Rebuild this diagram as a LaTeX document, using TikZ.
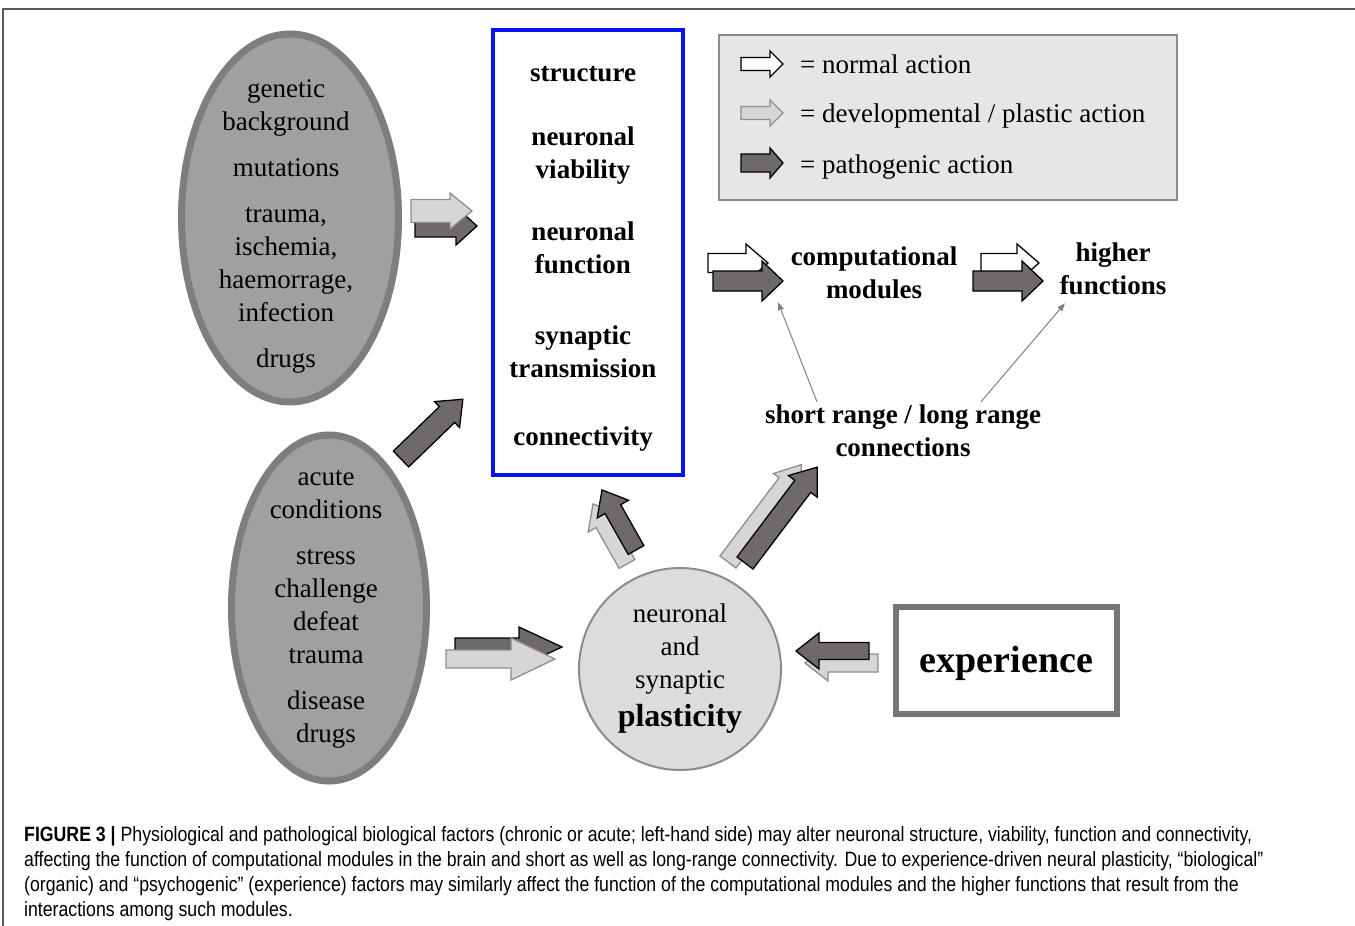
\documentclass[tikz,border=0pt]{standalone}
\usepackage{fontspec}
\setmainfont{Liberation Serif}
\newfontfamily\capfont[FakeStretch=0.855]{Liberation Sans}
\usepackage{tikz}
\usetikzlibrary{shapes.geometric,arrows.meta,calc}
\usepackage{xcolor}
\definecolor{ellfill}{HTML}{A0A0A0}
\definecolor{elldraw}{HTML}{7E7E7E}
\definecolor{circfill}{HTML}{DCDCDC}
\definecolor{circdraw}{HTML}{8C8C8C}
\definecolor{pathofill}{HTML}{6E6A6A}
\definecolor{plasticfill}{HTML}{D6D6D6}
\definecolor{plasticline}{HTML}{8E8E8E}
\definecolor{legfill}{HTML}{E6E6E6}
\definecolor{legdraw}{HTML}{8A8A8A}
\definecolor{expdraw}{HTML}{767676}
\definecolor{levelblue}{HTML}{0A14F0}

\begin{document}
\begin{tikzpicture}[x=1pt,y=-1pt,
	txt/.style={font=\fontsize{27}{33}\selectfont, align=center, inner sep=0},
	boldtxt/.style={font=\fontsize{27}{33}\selectfont\bfseries, align=center, inner sep=0},
	legtxt/.style={font=\fontsize{27}{33}\selectfont, anchor=west, inner sep=0, text height=19, text depth=6},
	captxt/.style={font=\capfont\fontsize{20.7}{25}\selectfont, anchor=west, inner sep=0},
	factorell/.style={ellipse, draw=elldraw, fill=ellfill, line width=7},
	normalarr/.style={draw=black, fill=white, line width=1.3},
	plasticarr/.style={draw=plasticline, fill=plasticfill, line width=1.3},
	pathoarr/.style={draw=black, fill=pathofill, line width=1.3},
	thinarr/.style={draw=gray, line width=1, -{Triangle[length=8pt,width=6pt]}},
	pics/barrow/.style n args={4}{code={
		\path[pic actions] (0,-#2) -- (#1-#4,-#2) -- (#1-#4,-#3) -- (#1,0) -- (#1-#4,#3) -- (#1-#4,#2) -- (0,#2) -- cycle;
	}}]
\useasboundingbox (0,0) rectangle (1355,926);
\draw[gray!70!black, line width=1.2] (3,926) -- (3,9) -- (1355,9);

% biological factors
\node [factorell, minimum width=217, minimum height=368] (chronic) at (290,218) {};
\node [txt] (chronictxt) at (286,226) {genetic\\background\\[13pt]mutations\\[13pt]trauma,\\ischemia,\\haemorrage,\\infection\\[13pt]drugs};
\node [factorell, minimum width=195, minimum height=346] (acute) at (329,608) {};
\node [txt] (acutetxt) at (326,609) {acute\\conditions\\[13pt]stress\\challenge\\defeat\\trauma\\[13pt]disease\\drugs};

% neuronal levels
\node [draw=levelblue, line width=4, minimum width=190, minimum height=445] (levels) at (588,252.5) {};
\node [boldtxt] (levelstxt) at (583,259) {structure\\[31pt]neuronal\\viability\\[29pt]neuronal\\function\\[38pt]synaptic\\transmission\\[35pt]connectivity};

% legend
\node [draw=legdraw, fill=legfill, line width=1.5, minimum width=458, minimum height=165] (legend) at (948,117.5) {};
\pic [normalarr] at (741,64) {barrow={42}{6.5}{13}{13}};
\pic [plasticarr] at (741,113) {barrow={42}{6.5}{13}{13}};
\pic [pathoarr] at (741,163) {barrow={42}{9}{15}{13}};
\node [legtxt] (normal) at (800,66.5) {= normal action};
\node [legtxt] (plastic) at (800,115.5) {= developmental / plastic action};
\node [legtxt] (patho) at (800,166.5) {= pathogenic action};

% modules and functions
\node [boldtxt] (comp) at (874,273) {computational\\modules};
\node [boldtxt] (higher) at (1113,269) {higher\\functions};
\node [boldtxt] (conn) at (903,431) {short range / long range\\connections};

% plasticity and experience
\node [circle, draw=circdraw, fill=circfill, line width=2, minimum size=202, inner sep=0, font=\fontsize{27}{33}\selectfont, align=center] (plast) at (680,669) {neuronal\\and\\synaptic\\[5pt]{\fontsize{32}{36}\selectfont\bfseries plasticity}};
\node [draw=expdraw, line width=6, minimum width=221, minimum height=107, font=\fontsize{38}{44}\selectfont\bfseries, text height=30, text depth=6] (exp) at (1006.5,660.5) {experience};

\draw [thinarr] ($(conn.north)+(-86,-3)$) -- ($(comp.south)+(-96,3)$);
\draw [thinarr] ($(conn.north)+(78,-3)$) -- ($(higher.south)+(-48,8)$);

% block arrows
\pic [pathoarr] at (415,226) {barrow={62}{11}{19}{21}};
\pic [plasticarr] at (411,211) {barrow={61}{11.5}{18}{22}};
\pic [pathoarr, rotate=44] at (401,459) {barrow={86}{11}{18}{22}};
\pic [pathoarr] at (455,647) {barrow={107}{9}{20}{43}};
\pic [plasticarr] at (446,659) {barrow={109}{9}{21}{44}};
\pic [plasticarr, rotate=119.5] at (627,564) {barrow={69}{9}{18}{22}};
\pic [pathoarr, rotate=119.5] at (636,550) {barrow={69}{9}{18}{22}};
\pic [plasticarr, rotate=53] at (728,562) {barrow={122}{10}{17}{24}};
\pic [pathoarr, rotate=53] at (745,563) {barrow={120}{10}{18}{24}};
\pic [plasticarr, rotate=180] at (878,663) {barrow={73}{9}{18}{23}};
\pic [pathoarr, rotate=180] at (869,651) {barrow={73}{8.5}{18}{23}};
\pic [normalarr] at (708,263) {barrow={60}{9.5}{19}{22}};
\pic [pathoarr] at (713,281) {barrow={70}{10}{20}{21}};
\pic [normalarr] at (981,263) {barrow={58}{9.5}{19}{22}};
\pic [pathoarr] at (973,281) {barrow={70}{10}{20}{21}};

% caption
\node [captxt] (cap1) at (24,836) {{\bfseries FIGURE 3 |} Physiological and pathological biological factors (chronic or acute; left-hand side) may alter neuronal structure, viability, function and connectivity,};
\node [captxt] (cap2) at (24,861) {affecting the function of computational modules in the brain and short as well as long-range connectivity. Due to experience-driven neural plasticity, “biological”};
\node [captxt] (cap3) at (24,886) {(organic) and “psychogenic” (experience) factors may similarly affect the function of the computational modules and the higher functions that result from the};
\node [captxt] (cap4) at (24,911) {interactions among such modules.};
\end{tikzpicture}
\end{document}
